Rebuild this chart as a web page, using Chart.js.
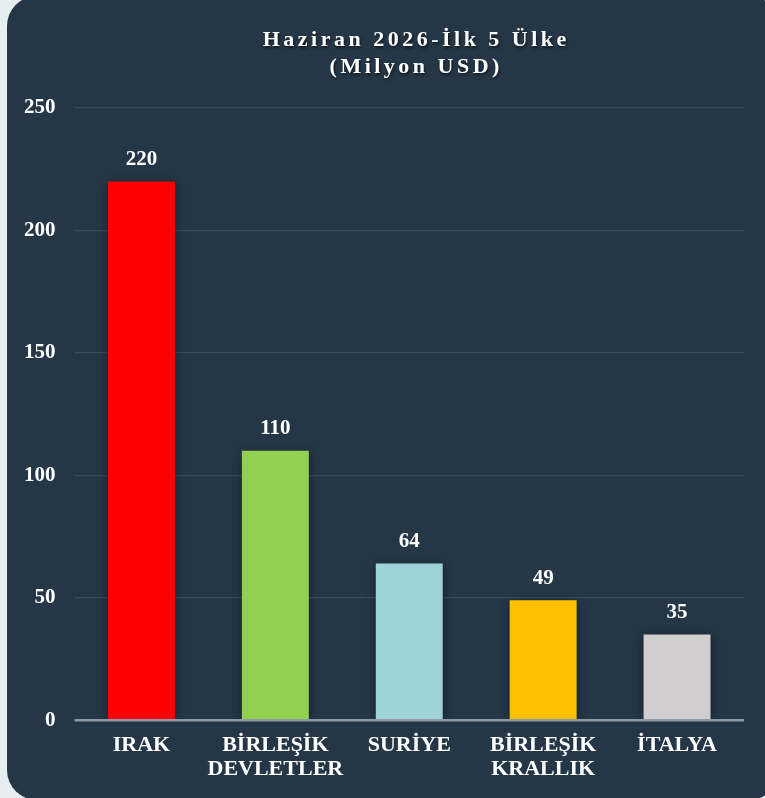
<!DOCTYPE html>
<html>
<head>
<meta charset="utf-8">
<script src="https://cdn.jsdelivr.net/npm/chart.js@4"></script>
<style>
html,body{margin:0;padding:0;width:765px;height:798px;overflow:hidden;background:#e7eef1;}
#card{position:absolute;left:7px;top:-4px;width:772px;height:804px;border-radius:30px;background:#253746;}
#wrap{position:absolute;left:0;top:0;width:765px;height:798px;}
</style>
</head>
<body>
<div id="card"></div>
<div id="wrap"><canvas id="c"></canvas></div>
<script>
const titleLines = ['Haziran 2026-İlk 5 Ülke', '(Milyon USD)'];
const categories = [['IRAK'], ['BİRLEŞİK', 'DEVLETLER'], ['SURİYE'], ['BİRLEŞİK', 'KRALLIK'], ['İTALYA']];
const values = [220, 110, 64, 49, 35];
const barColors = ['#ff0000', '#92d050', '#9ed3da', '#ffc000', '#d0cece'];
const yTicks = [0, 50, 100, 150, 200, 250];

const SERIF = '"Liberation Serif", "Times New Roman", serif';

const titlePlugin = {
  id: 'cardTitle',
  afterDraw(chart) {
    const ctx = chart.ctx;
    const cx = (chart.chartArea.left + chart.chartArea.right) / 2 + 7;
    ctx.save();
    ctx.font = 'bold 22px ' + SERIF;
    ctx.fillStyle = '#ffffff';
    ctx.textAlign = 'center';
    ctx.textBaseline = 'middle';
    try { ctx.letterSpacing = '3.5px'; } catch (e) {}
    ctx.shadowColor = 'rgba(0,0,0,0.6)';
    ctx.shadowBlur = 3;
    ctx.shadowOffsetX = 1;
    ctx.shadowOffsetY = 2;
    ctx.fillText(titleLines[0], cx, 40);
    ctx.fillText(titleLines[1], cx, 67);
    ctx.restore();
  }
};

const shadowPlugin = {
  id: 'barShadow',
  beforeDatasetsDraw(chart) {
    const ctx = chart.ctx;
    ctx.save();
    ctx.shadowColor = 'rgba(0,0,0,0.45)';
    ctx.shadowBlur = 10;
    ctx.shadowOffsetX = 0;
    ctx.shadowOffsetY = 2;
  },
  afterDatasetsDraw(chart) {
    chart.ctx.restore();
    const ctx = chart.ctx;
    const meta = chart.getDatasetMeta(0);
    ctx.save();
    ctx.font = 'bold 21px ' + SERIF;
    ctx.fillStyle = '#ffffff';
    ctx.textAlign = 'center';
    ctx.textBaseline = 'middle';
    meta.data.forEach((bar, i) => {
      ctx.fillText(String(values[i]), bar.x, bar.y - 22);
    });
    const ys = chart.scales.y;
    const y0 = ys.getPixelForValue(0);
    ctx.strokeStyle = '#8f9aa4';
    ctx.lineWidth = 2.5;
    ctx.beginPath();
    ctx.moveTo(chart.chartArea.left, y0);
    ctx.lineTo(chart.chartArea.right, y0);
    ctx.stroke();
    ctx.restore();
  }
};

new Chart(document.getElementById('c'), {
  type: 'bar',
  data: {
    labels: categories,
    datasets: [{
      data: values,
      backgroundColor: barColors,
      borderWidth: 0,
      barPercentage: 0.5,
      categoryPercentage: 1.0
    }]
  },
  options: {
    responsive: true,
    maintainAspectRatio: false,
    animation: false,
    layout: { padding: { top: 108, left: 5, right: 21, bottom: 3 } },
    plugins: {
      legend: { display: false },
      title: { display: false },
      tooltip: { enabled: false }
    },
    scales: {
      x: {
        grid: { display: false, drawTicks: false },
        border: { display: false },
        ticks: {
          color: '#ffffff',
          font: { family: SERIF, size: 22, weight: 'bold', lineHeight: 1.11 },
          padding: 13,
          maxRotation: 0,
          autoSkip: false
        }
      },
      y: {
        min: 0,
        max: 250,
        afterBuildTicks(scale) { scale.ticks = yTicks.map(v => ({ value: v })); },
        grid: {
          color: '#3a4c5b',
          lineWidth: 1.2,
          drawTicks: false
        },
        border: { display: false },
        ticks: {
          color: '#ffffff',
          font: { family: SERIF, size: 21, weight: 'bold' },
          padding: 19
        }
      }
    }
  },
  plugins: [titlePlugin, shadowPlugin]
});
</script>
</body>
</html>
